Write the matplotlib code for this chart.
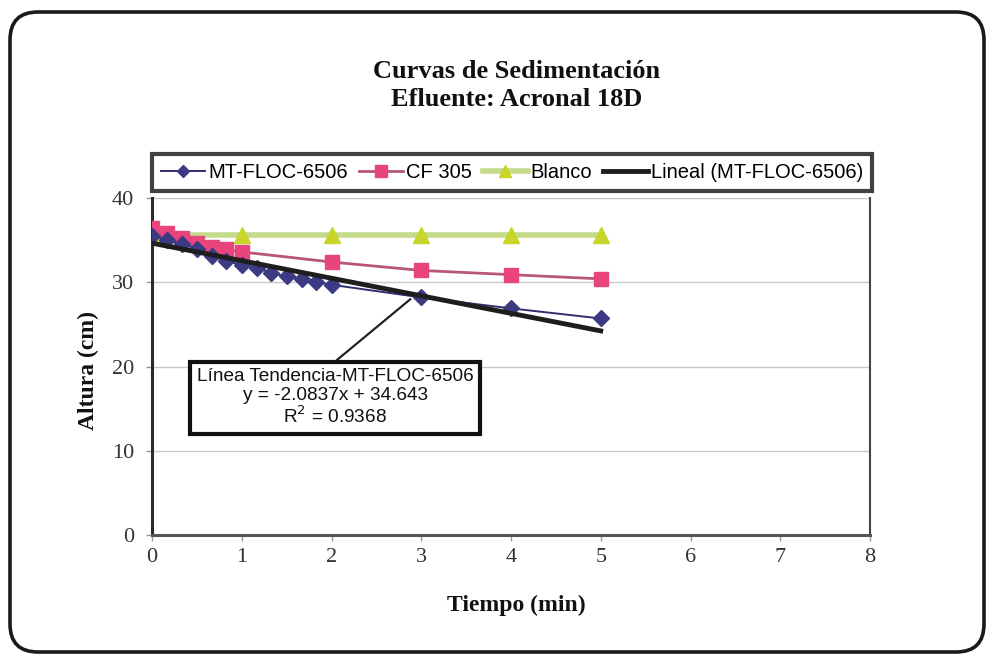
import matplotlib
matplotlib.use("Agg")
import matplotlib.pyplot as plt
from matplotlib.patches import FancyBboxPatch
from matplotlib.transforms import IdentityTransform

# Sedimentation data: height (cm) vs time (min)
t_mt = [0, 0.17, 0.33, 0.5, 0.67, 0.83, 1.0, 1.17, 1.33, 1.5, 1.67, 1.83, 2, 3, 4, 5]
h_mt = [35.5, 35.0, 34.5, 34.0, 33.1, 32.5, 32.1, 31.7, 31.1, 30.7, 30.4, 30.0, 29.7, 28.2, 26.9, 25.7]

t_cf = [0, 0.17, 0.33, 0.5, 0.67, 0.83, 1.0, 2, 3, 4, 5]
h_cf = [36.4, 35.8, 35.2, 34.6, 34.2, 33.9, 33.6, 32.4, 31.4, 30.9, 30.4]

t_bl = [0, 1, 2, 3, 4, 5]
h_bl = [35.6, 35.6, 35.6, 35.6, 35.6, 35.6]

# Linear trend of MT-FLOC-6506
slope = -2.0837
intercept = 34.643
r2 = 0.9368
trend_x = [0, 5]

x_ticks = list(range(0, 9))
y_ticks = [0, 10, 20, 30, 40]

W, H = 988, 657
fig = plt.figure(figsize=(W / 100, H / 100), dpi=100)
fig.patch.set_facecolor("white")

# Rounded outer frame
frame = FancyBboxPatch((10, 5), 974, 640, boxstyle="round,pad=0,rounding_size=28",
                       transform=IdentityTransform(), facecolor="none",
                       edgecolor="#1a1a1a", linewidth=2.6)
fig.patches.append(frame)

ax = fig.add_axes([152 / W, 1 - 535 / H, (870 - 152) / W, (535 - 198) / H])
ax.set_xlim(0, 8)
ax.set_ylim(0, 40)

ax.yaxis.grid(True, color="#c8c8c8", linewidth=1.0)
ax.set_axisbelow(True)

serif = "Liberation Serif"
sans = "Liberation Sans"

ax.plot(t_bl, h_bl, color="#c4db8c", linewidth=4, marker="^", markersize=11,
        markerfacecolor="#c8d62a", markeredgecolor="#c8d62a", label="Blanco", zorder=3)
ax.plot(t_cf, h_cf, color="#b8557a", linewidth=2, marker="s", markersize=10,
        markerfacecolor="#e8457c", markeredgecolor="#e8457c", label="CF 305", zorder=4)
ax.plot(t_mt, h_mt, color="#2f2e6e", linewidth=1.4, marker="D", markersize=8,
        markerfacecolor="#3c3a82", markeredgecolor="#3c3a82", label="MT-FLOC-6506", zorder=5)
trend_y = [slope * x + intercept for x in trend_x]
ax.plot(trend_x, trend_y, color="#1e1e1e", linewidth=3.5,
        label="Lineal (MT-FLOC-6506)", zorder=6)

# Spines and ticks
ax.spines["top"].set_visible(False)
ax.spines["left"].set_color("#2a2a2a")
ax.spines["left"].set_linewidth(2.2)
ax.spines["bottom"].set_color("#555555")
ax.spines["bottom"].set_linewidth(2.2)
ax.spines["right"].set_color("#444444")
ax.spines["right"].set_linewidth(1.5)

ax.set_xticks(x_ticks)
ax.set_yticks(y_ticks)
ax.tick_params(axis="both", direction="out", length=4, color="#999999", width=1,
               labelcolor="#333333", labelsize=16)
ax.tick_params(axis="y", pad=9)
ax.tick_params(axis="x", pad=5)
for lab in ax.get_xticklabels() + ax.get_yticklabels():
    lab.set_fontfamily(serif)

# Titles and axis labels
fig.text(517 / W, 1 - 71 / H, "Curvas de Sedimentación", ha="center", va="center",
         fontsize=19, fontweight="bold", fontfamily=serif, color="#111111")
fig.text(517 / W, 1 - 99 / H, "Efluente: Acronal 18D", ha="center", va="center",
         fontsize=19, fontweight="bold", fontfamily=serif, color="#111111")
fig.text(88 / W, 1 - 370 / H, "Altura (cm)", ha="center", va="center", rotation=90,
         fontsize=17, fontweight="bold", fontfamily=serif, color="#111111")
fig.text(516 / W, 1 - 605 / H, "Tiempo (min)", ha="center", va="center",
         fontsize=17, fontweight="bold", fontfamily=serif, color="#111111")

# Legend across the top
handles, labels = ax.get_legend_handles_labels()
order = [2, 1, 0, 3]
leg = fig.legend([handles[i] for i in order], [labels[i] for i in order],
                 loc="center", bbox_to_anchor=(152 / W, 1 - 197 / H, 720 / W, 49 / H),
                 mode="expand", ncol=4, frameon=True, fancybox=False,
                 prop={"family": sans, "size": 14.5}, handlelength=2.2, handletextpad=0.15,
                 columnspacing=0.4, borderaxespad=0, borderpad=0.45, markerscale=0.8)
leg.get_frame().set_edgecolor("#111111")
leg.get_frame().set_linewidth(3)

# Trend line callout
txt = ("Línea Tendencia-MT-FLOC-6506\n"
       f"y = {slope}x + {intercept}\n"
       f"R$^2$ = {r2}")
ax.annotate(txt, xy=(2.88, 28.0), xytext=(2.04, 16.3), textcoords="data",
            ha="center", va="center", fontsize=13.7, fontfamily=sans, linespacing=1.1,
            color="#111111",
            bbox=dict(boxstyle="square,pad=0.35", facecolor="white", edgecolor="#111111",
                      linewidth=3),
            arrowprops=dict(arrowstyle="-", color="#222222", linewidth=1.6,
                            relpos=(0.47, 1.0), shrinkA=0, shrinkB=0),
            zorder=10)

fig.savefig("out.png", dpi=100, facecolor="white")
